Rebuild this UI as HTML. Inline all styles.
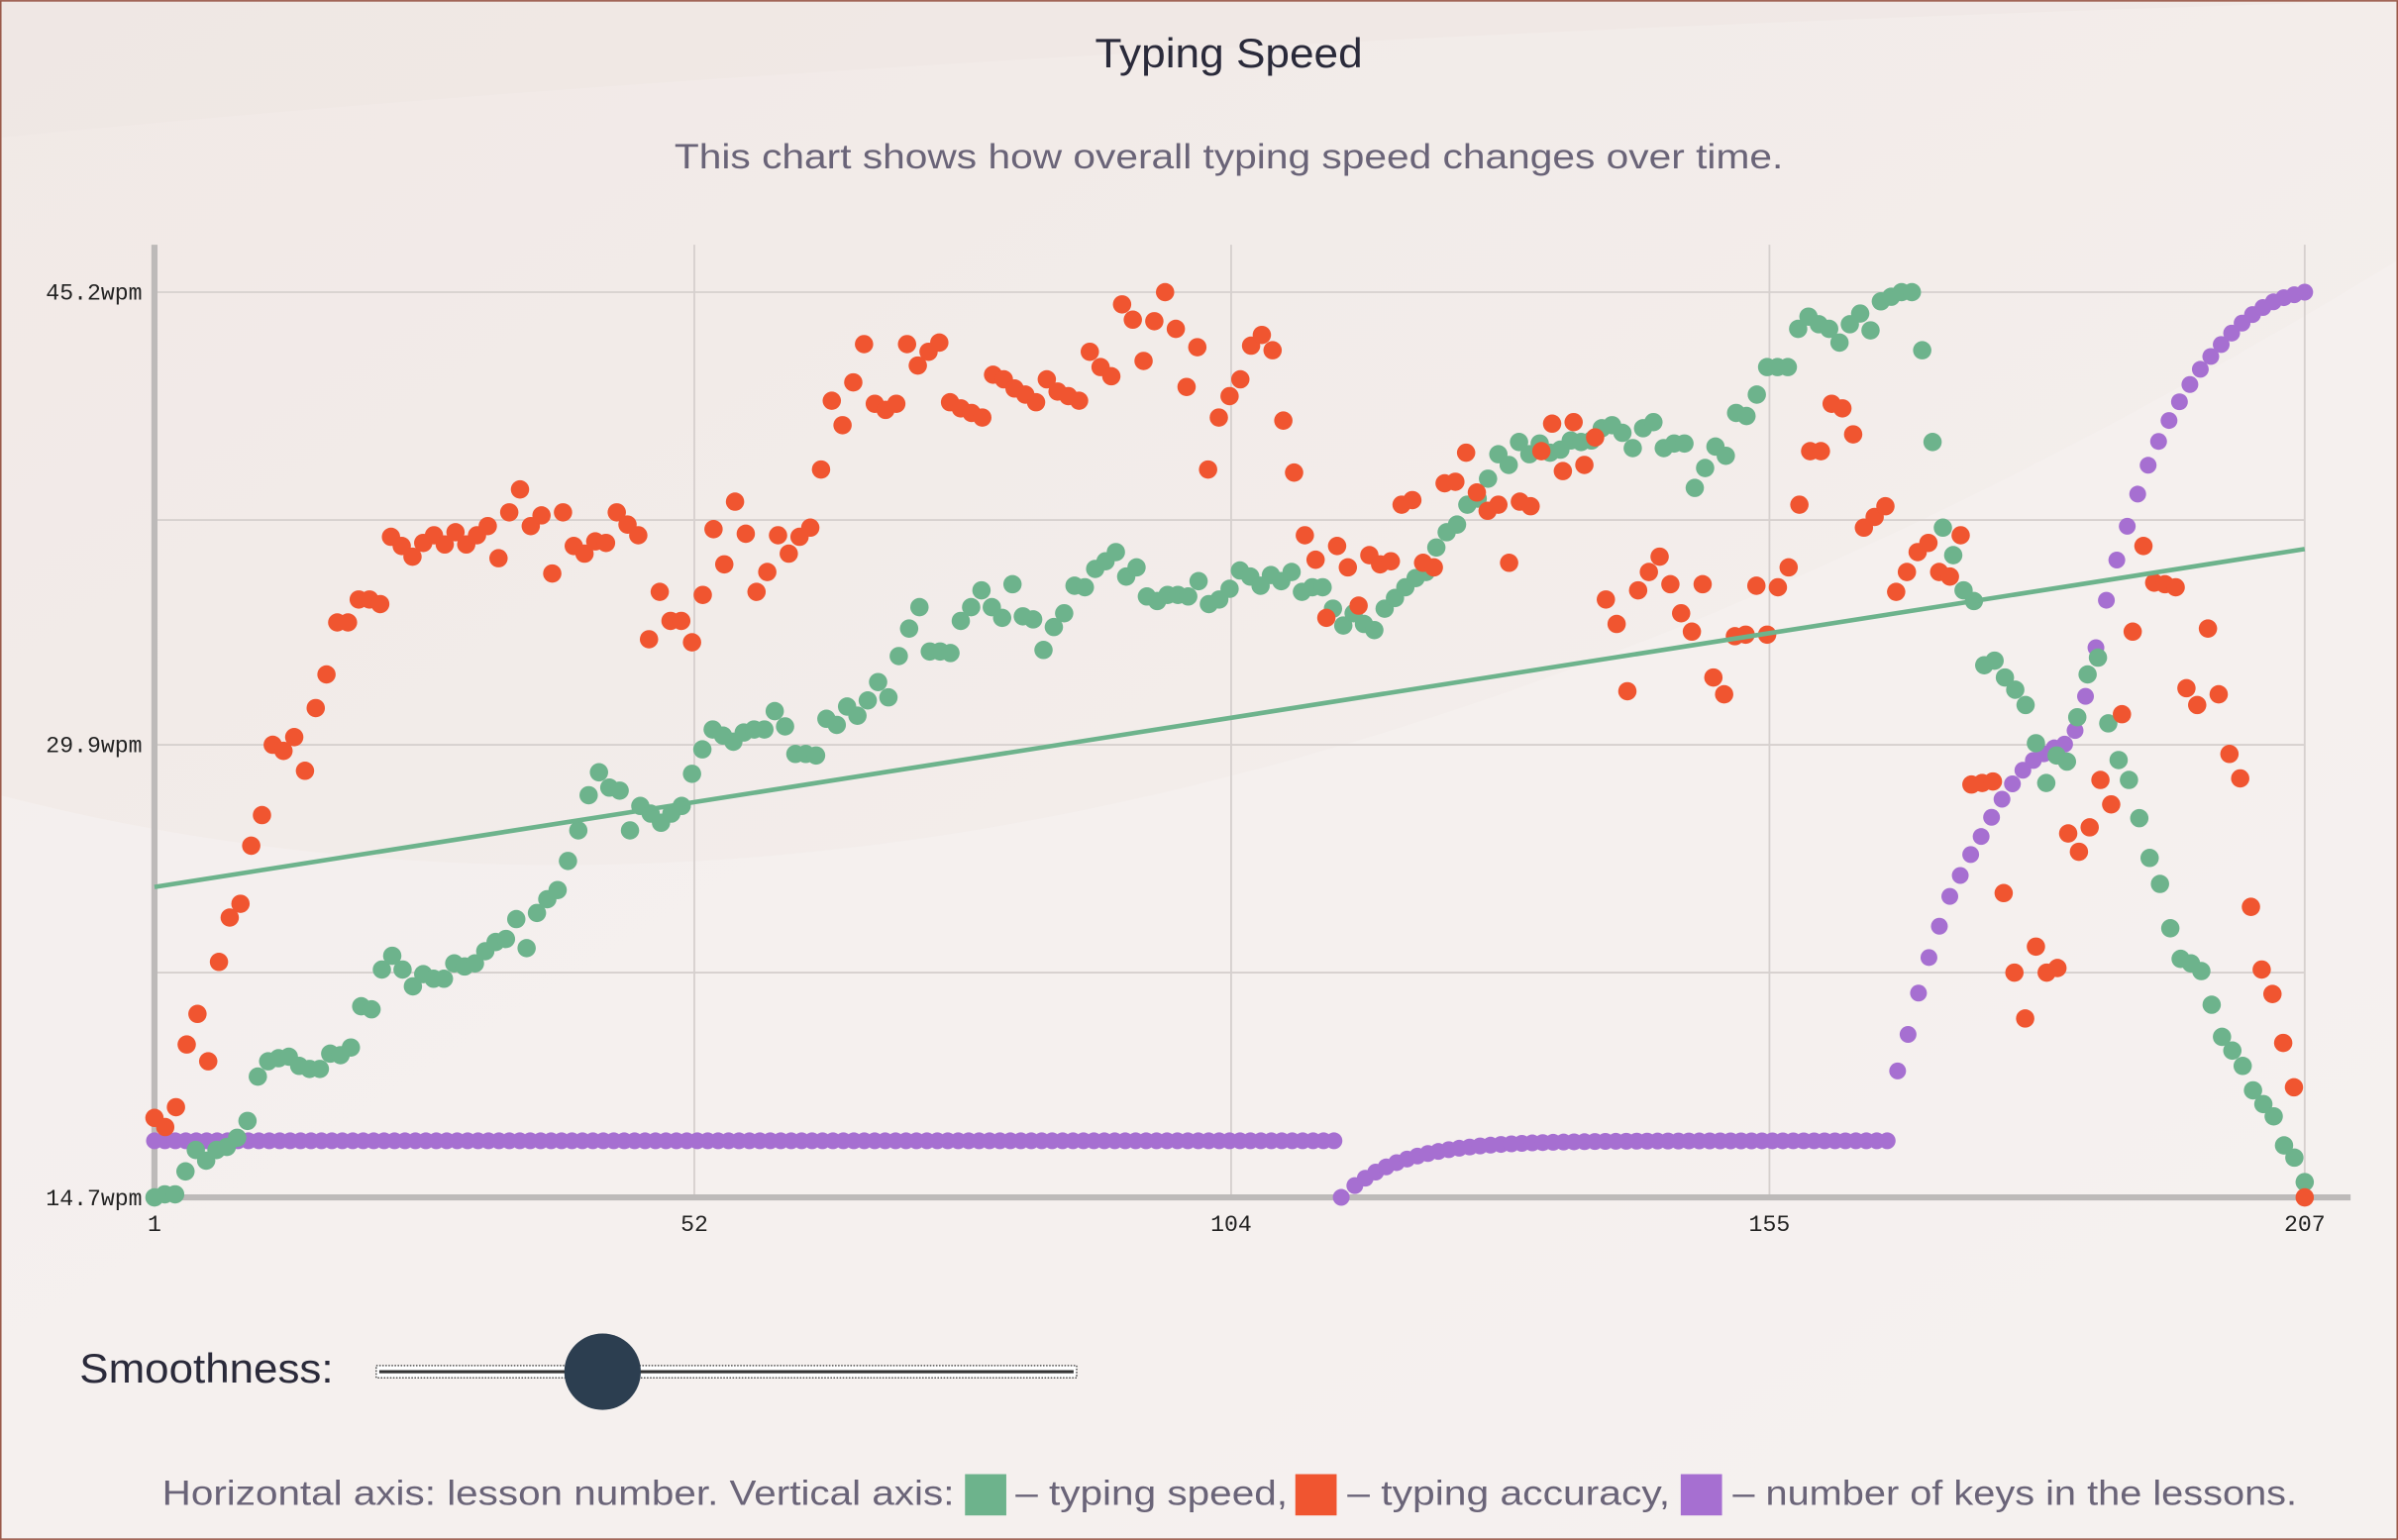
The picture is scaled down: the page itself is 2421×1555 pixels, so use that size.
<!DOCTYPE html>
<html><head><meta charset="utf-8"><style>
html,body{margin:0;padding:0;background:#f4efed;}
svg{display:block}
</style></head><body>
<svg id="s" width="2421" height="1555" viewBox="0 0 1568 1007" xmlns="http://www.w3.org/2000/svg">
<defs><linearGradient id="bg" x1="0" y1="0" x2="1" y2="1"><stop offset="0" stop-color="#f1e9e6"/><stop offset="1" stop-color="#f5f1ef"/></linearGradient></defs>
<rect x="0" y="0" width="1568" height="1007" fill="url(#bg)"/>
<path d="M0 520 Q700 700 1568 170 L1568 1007 L0 1007Z" fill="#f5f1f0" opacity="0.7"/>
<path d="M0 90 Q600 30 1568 0 L1568 0 L0 0Z" fill="#efe6e3" opacity="0.6"/>
<rect x="0.5" y="0.5" width="1567" height="1006" fill="none" stroke="#9a5a4a" stroke-width="1"/>
<text x="716" y="44" textLength="175" lengthAdjust="spacingAndGlyphs" font-family="Liberation Sans, sans-serif" font-size="27" fill="#2a2a3a">Typing Speed</text>
<text x="441" y="110" textLength="725" lengthAdjust="spacingAndGlyphs" font-family="Liberation Sans, sans-serif" font-size="23" fill="#6a6478">This chart shows how overall typing speed changes over time.</text>
<g stroke="#d6d0ce" stroke-width="1.2">
<line x1="101" y1="191" x2="1507" y2="191"/><line x1="101" y1="340" x2="1507" y2="340"/><line x1="101" y1="487" x2="1507" y2="487"/><line x1="101" y1="636" x2="1507" y2="636"/>
<line x1="454" y1="160" x2="454" y2="783"/><line x1="805" y1="160" x2="805" y2="783"/><line x1="1157" y1="160" x2="1157" y2="783"/><line x1="1507" y1="160" x2="1507" y2="783"/>
</g>
<line x1="101" y1="160" x2="101" y2="785" stroke="#bdbab9" stroke-width="4"/>
<line x1="99" y1="783" x2="1537" y2="783" stroke="#bdbab9" stroke-width="4"/>
<g font-family="Liberation Mono, monospace" font-size="15" fill="#222">
<text x="93" y="196" text-anchor="end">45.2wpm</text><text x="93" y="492" text-anchor="end">29.9wpm</text><text x="93" y="788" text-anchor="end">14.7wpm</text>
<text x="101" y="805" text-anchor="middle">1</text><text x="454" y="805" text-anchor="middle">52</text><text x="805" y="805" text-anchor="middle">104</text><text x="1157" y="805" text-anchor="middle">155</text><text x="1507" y="805" text-anchor="middle">207</text>
</g>
<g id="pts"></g>
<line x1="101" y1="580" x2="1507" y2="359" stroke="#6db38c" stroke-width="3"/>
<text x="52" y="904" textLength="166" lengthAdjust="spacingAndGlyphs" font-family="Liberation Sans, sans-serif" font-size="27" fill="#2a2a3a">Smoothness:</text>
<rect x="246" y="893" width="458" height="8" fill="#fff" stroke="#555" stroke-width="1" stroke-dasharray="1 1"/>
<line x1="248" y1="897" x2="702" y2="897" stroke="#333" stroke-width="2"/>
<circle cx="394" cy="897" r="25" fill="#2c3e50"/>
<g font-family="Liberation Sans, sans-serif" font-size="23" fill="#6a6478">
<text x="106" y="984" textLength="518" lengthAdjust="spacingAndGlyphs">Horizontal axis: lesson number. Vertical axis:</text>
<rect x="631" y="964" width="27" height="27" fill="#6db38c"/>
<text x="664" y="984" textLength="178" lengthAdjust="spacingAndGlyphs">– typing speed,</text>
<rect x="847" y="964" width="27" height="27" fill="#f05530"/>
<text x="881" y="984" textLength="211" lengthAdjust="spacingAndGlyphs">– typing accuracy,</text>
<rect x="1099" y="964" width="27" height="27" fill="#a66fd1"/>
<text x="1133" y="984" textLength="369" lengthAdjust="spacingAndGlyphs">– number of keys in the lessons.</text>
</g>
</svg>
<script>
var G=[783,781,781,766,752,759,752,750,744,733,704,694,692,691,697,699,699,689,690,685,658,660,634,625,634,645,637,640,640,630,632,630,622,616,614,601,620,597,588,582,563,543,520,505,515,517,543,527,532,538,532,527,506,490,477,481,485,479,477,477,465,475,493,493,494,470,474,462,468,458,446,456,429,411,397,426,426,427,406,397,386,397,404,382,403,405,425,410,401,383,384,372,367,361,377,371,390,393,389,389,390,380,395,392,385,373,377,383,376,380,374,387,384,384,398,409,401,408,412,398,391,384,378,374,358,348,343,330,326,313,297,304,289,297,290,296,294,288,289,288,280,278,283,293,280,276,293,290,290,319,306,292,298,270,272,258,240,240,240,215,207,212,215,224,212,205,216,197,194,191,191,229,289,345,363,386,393,435,432,443,451,461,486,512,494,498,469,441,430,473,497,510,535,561,578,607,627,630,635,657,678,687,697,713,722,730,749,757,773];
var R=[731,737,724,683,663,694,629,600,591,553,533,487,491,482,504,463,441,407,407,392,392,395,351,357,364,355,350,356,348,356,350,344,365,335,320,344,337,375,335,357,362,354,355,335,343,350,418,387,406,406,420,389,346,369,328,349,387,374,350,362,351,345,307,262,278,250,225,264,268,264,225,239,230,224,263,267,270,273,245,248,254,258,263,248,256,259,262,230,240,246,199,209,236,210,191,215,253,227,307,273,259,248,226,219,229,275,309,350,366,404,357,371,396,363,369,367,330,327,368,371,316,315,296,322,334,330,368,328,331,295,277,308,276,304,286,392,408,452,386,374,364,382,401,413,382,443,454,416,415,383,415,384,371,330,295,295,264,267,284,345,338,331,387,374,361,355,374,377,350,513,512,511,584,636,666,619,636,633,545,557,541,510,526,467,413,357,381,382,384,450,461,411,454,493,509,593,634,650,682,711,783];
var ns="http://www.w3.org/2000/svg",g=document.getElementById("pts");
function dot(x,y,c,r){var e=document.createElementNS(ns,"circle");e.setAttribute("cx",x);e.setAttribute("cy",y);e.setAttribute("r",r);e.setAttribute("fill",c);g.appendChild(e);}
var step=(1507-101)/206;
var K=[[1238,710],[1247,679],[1254,651],[1261,627],[1268,606],[1275,586],[1282,572],[1289,558],[1296,546],[1303,533],[1310,521],[1317,511],[1324,502],[1331,496],[1338,492],[1345,488],[1352,486],[1359,474],[1366,446],[1373,411],[1380,381],[1387,356],[1394,335],[1401,313],[1408,296],[1415,281],[1422,268],[1429,256],[1436,245],[1443,236],[1450,228],[1457,220],[1464,213],[1471,207],[1478,202],[1485,198],[1492,195],[1499,193],[1507,191]];
var P=[];
for(var i=0;i<207;i++){var x=101+i*step,y;
 if(x<=877)y=746;
 else if(x<1238)y=746+37*Math.exp(-(x-877)/38);
 else {y=191;for(var j=1;j<K.length;j++){if(x<=K[j][0]){var a=K[j-1],b=K[j];y=a[1]+(b[1]-a[1])*(x-a[0])/(b[0]-a[0]);break;}}}
 if(x>877&&x<881)continue;
 P.push([x,y]);}
P.push([877,783]);
P.forEach(function(p){dot(p[0],p[1],"#a66fd1",5.5);});
var sg=(1507-101)/(G.length-1);G.forEach(function(y,i){dot(101+i*sg,y,"#6db38c",6);});
var sr=(1507-101)/(R.length-1);R.forEach(function(y,i){dot(101+i*sr,y,"#f05530",6);});
</script>
</body></html>
